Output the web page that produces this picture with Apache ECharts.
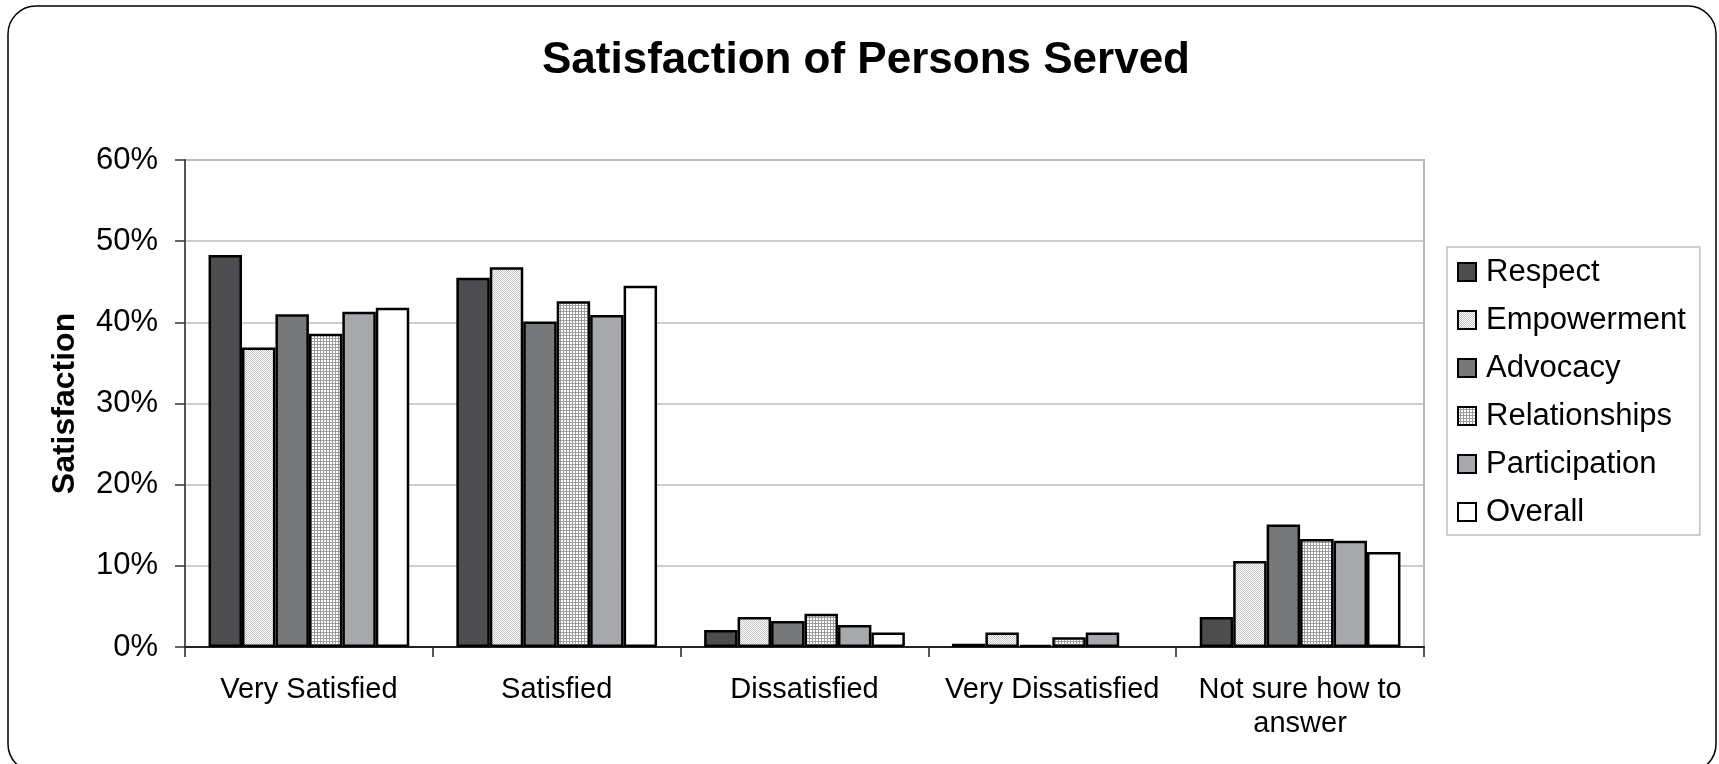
<!DOCTYPE html>
<html>
<head>
<meta charset="utf-8">
<title>Satisfaction of Persons Served</title>
<script src="https://cdn.jsdelivr.net/npm/echarts@6/dist/echarts.min.js"></script>
<style>
  html, body { margin: 0; padding: 0; background: #fff; }
  #chart { width: 1719px; height: 764px; }
</style>
</head>
<body>
<div id="chart"></div>
<script>
// categories on the x axis
const categories = ['Very Satisfied', 'Satisfied', 'Dissatisfied', 'Very Dissatisfied', 'Not sure how to\nanswer']

// percent values per series, one per category (null = no bar drawn)
const respect = [48.3, 45.5, 2.1, 0.4, 3.7]
const empowerment = [36.9, 46.8, 3.7, 1.8, 10.6]
const advocacy = [41.0, 40.1, 3.2, 0.25, 15.1]
const relationships = [38.6, 42.6, 4.1, 1.2, 13.3]
const participation = [41.3, 40.9, 2.7, 1.8, 13.1]
const overall = [41.8, 44.5, 1.8, null, 11.7]

const seriesNames = ['Respect', 'Empowerment', 'Advocacy', 'Relationships', 'Participation', 'Overall']

const FONT = "'Liberation Sans', Arial, sans-serif"

// small tiles for the hatched fills
const makeTile = (size, draw) => {
  const c = document.createElement('canvas')
  c.width = size
  c.height = size
  const ctx = c.getContext('2d')
  draw(ctx)
  return c
}

const dotTile = makeTile(2, (ctx) => {
  ctx.fillStyle = '#ffffff'
  ctx.fillRect(0, 0, 2, 2)
  ctx.fillStyle = '#c4c4c4'
  ctx.fillRect(0, 0, 1, 1)
  ctx.fillRect(1, 1, 1, 1)
})

const gridTile = makeTile(3, (ctx) => {
  ctx.fillStyle = '#ffffff'
  ctx.fillRect(0, 0, 3, 3)
  ctx.fillStyle = '#9c9c9c'
  ctx.fillRect(2, 0, 1, 3)
  ctx.fillRect(0, 2, 3, 1)
})

const fills = [
  '#4d4d4f',
  { image: dotTile, repeat: 'repeat' },
  '#77787a',
  { image: gridTile, repeat: 'repeat' },
  '#a7a8ab',
  '#ffffff'
]

const values = [respect, empowerment, advocacy, relationships, participation, overall]

const chart = echarts.init(document.getElementById('chart'))

chart.setOption({
  animation: false,
  backgroundColor: '#fff',
  title: {
    text: 'Satisfaction of Persons Served',
    left: 537,
    top: 34,
    textStyle: {
      fontFamily: FONT,
      fontSize: 44,
      fontWeight: 'bold',
      color: '#000'
    }
  },
  graphic: [
    {
      type: 'rect',
      shape: { x: 8, y: 6, width: 1708, height: 766, r: 28 },
      style: { fill: 'none', stroke: '#000', lineWidth: 1.5 },
      silent: true,
      z: -1
    }
  ],
  legend: {
    orient: 'vertical',
    left: 1447,
    top: 247,
    padding: [8, 14, 6, 10],
    itemGap: 14,
    itemWidth: 18,
    itemHeight: 18,
    icon: 'rect',
    borderColor: '#c0c0c0',
    borderWidth: 1.5,
    textStyle: {
      fontFamily: FONT,
      fontSize: 31,
      lineHeight: 34,
      color: '#000',
      padding: [0, 0, 0, 5]
    },
    data: seriesNames
  },
  grid: {
    left: 185,
    top: 160,
    width: 1239,
    height: 487,
    show: true,
    borderColor: '#b8b8b8',
    borderWidth: 2
  },
  xAxis: {
    type: 'category',
    data: categories,
    axisLine: { lineStyle: { color: '#222', width: 2 } },
    axisTick: { show: true, length: 10, lineStyle: { color: '#222', width: 1.5 } },
    axisLabel: {
      fontFamily: FONT,
      fontSize: 29,
      lineHeight: 34,
      color: '#000',
      margin: 26,
      interval: 0
    }
  },
  yAxis: {
    type: 'value',
    min: 0,
    max: 60,
    interval: 10,
    name: 'Satisfaction',
    nameLocation: 'middle',
    nameRotate: 90,
    nameGap: 104,
    nameTextStyle: {
      fontFamily: FONT,
      fontSize: 32,
      fontWeight: 'bold',
      color: '#000'
    },
    axisLine: { show: true, lineStyle: { color: '#555', width: 2 } },
    axisTick: { show: true, length: 10, lineStyle: { color: '#333', width: 1.5 } },
    axisLabel: {
      fontFamily: FONT,
      fontSize: 31,
      color: '#000',
      margin: 27,
      formatter: '{value}%'
    },
    splitLine: { lineStyle: { color: '#bdbdbd', width: 1.5 } }
  },
  series: seriesNames.map((name, i) => ({
    name: name,
    type: 'bar',
    data: values[i],
    barGap: '0%',
    barCategoryGap: '19%',
    itemStyle: {
      color: fills[i],
      borderColor: '#000',
      borderWidth: 2.5
    }
  }))
})
</script>
</body>
</html>
